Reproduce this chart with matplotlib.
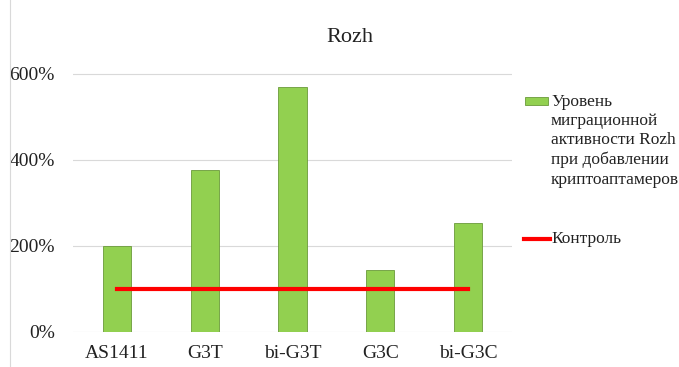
import matplotlib.pyplot as plt
from matplotlib.lines import Line2D
from matplotlib.patches import Rectangle
from matplotlib.ticker import FuncFormatter

# data
categories = ["AS1411", "G3T", "bi-G3T", "G3C", "bi-G3C"]
migration = [200, 376, 570, 143, 253]
control = [100, 100, 100, 100, 100]
bar_label = "Уровень\nмиграционной\nактивности Rozh\nпри добавлении\nкриптоаптамеров"
line_label = "Контроль"

bar_color = "#92d050"
bar_edge = "#6a9a3a"
line_color = "#ff0000"
text_color = "#222222"

plt.rcParams['font.family'] = ['Liberation Serif', 'DejaVu Serif']

W, H = 679, 367
fig = plt.figure(figsize=(W / 100, H / 100), dpi=100)
ax = fig.add_axes([73 / W, 1 - 332 / H, 439 / W, (332 - 60) / H])

x = range(len(categories))
ax.bar(x, migration, width=0.32, color=bar_color, edgecolor=bar_edge, linewidth=0.6, zorder=2)
ax.plot(x, control, color=line_color, linewidth=3, zorder=3)

ax.set_xlim(-0.5, len(categories) - 0.5)
ax.set_ylim(0, 632)
ax.set_yticks([0, 200, 400, 600])
ax.yaxis.set_major_formatter(FuncFormatter(lambda v, p: f"{int(v)}%"))
ax.set_xticks(list(x))
ax.set_xticklabels(categories)
ax.tick_params(axis='both', length=0, labelsize=14, colors=text_color)
ax.tick_params(axis='y', pad=13)
ax.tick_params(axis='x', pad=9)
ax.grid(axis='y', color="#d9d9d9", linewidth=0.8, zorder=0)
for s in ax.spines.values():
    s.set_visible(False)

fig.text(350 / W, 1 - 38 / H, "Rozh", ha='center', va='center', fontsize=16, color=text_color)

# legend drawn by hand so the swatch sits on the first text line
fig.add_artist(Rectangle((525 / W, 1 - 105 / H), 23 / W, 8 / H, transform=fig.transFigure,
                         facecolor=bar_color, edgecolor=bar_edge, linewidth=0.6))
fig.text(551 / W, 1 - 94 / H, bar_label, ha='left', va='top', fontsize=12.5,
         color=text_color, linespacing=1.27)
fig.add_artist(Line2D([524 / W, 550 / W], [1 - 239 / H, 1 - 239 / H], color=line_color,
                      linewidth=3, transform=fig.transFigure))
fig.text(551 / W, 1 - 239 / H, line_label, ha='left', va='center', fontsize=12.5, color=text_color)

# chart frame edge
fig.add_artist(Line2D([10 / W, 10 / W], [0, 1], color="#d9d9d9", linewidth=0.8))

fig.savefig("out.png", dpi=100)
